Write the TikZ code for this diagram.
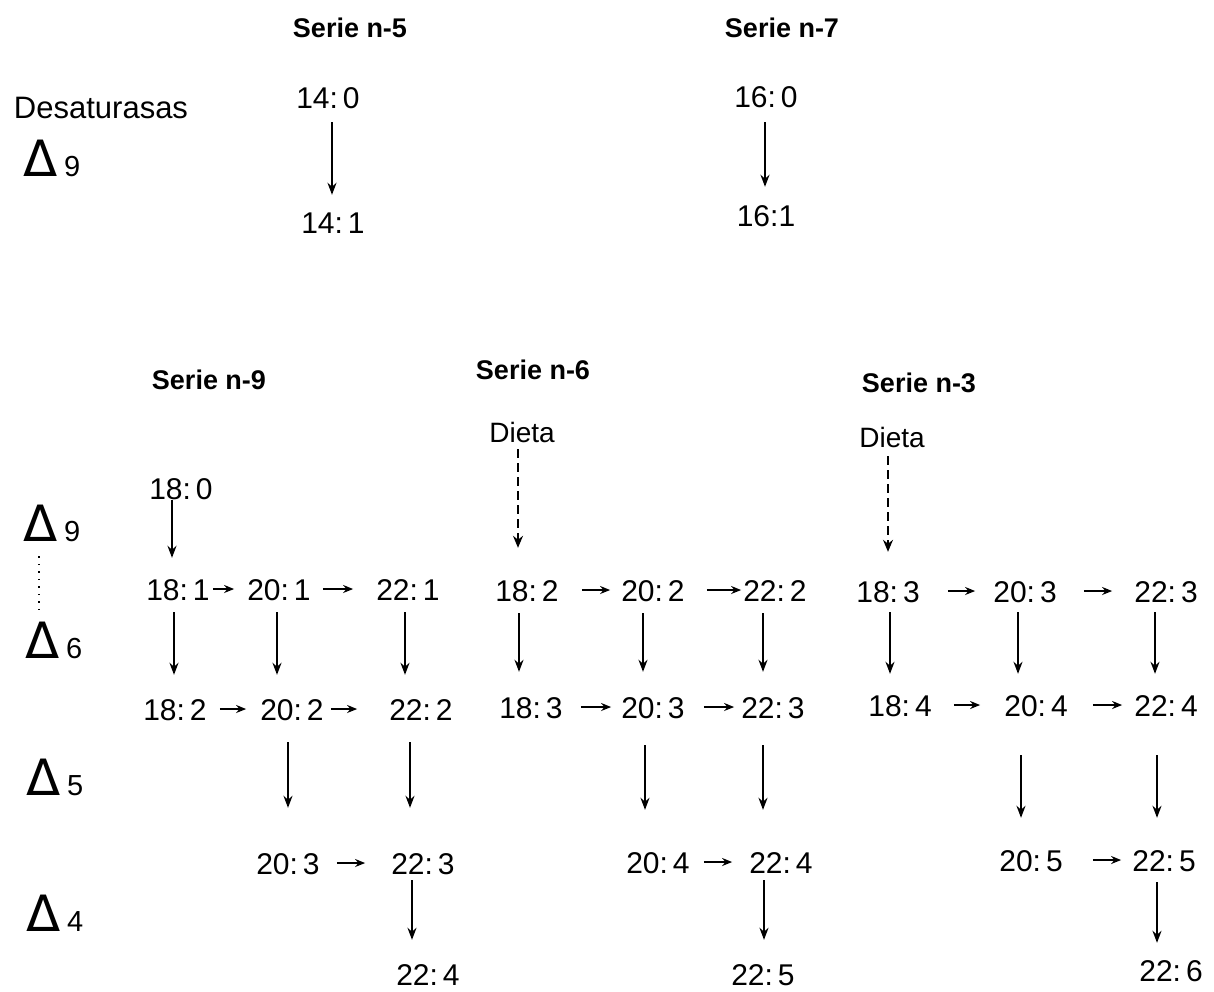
\documentclass[tikz,border=0pt]{standalone}
\usepackage{fontspec}
\setmainfont{Liberation Sans}
\newfontfamily\djfont{DejaVu Sans}
\usetikzlibrary{arrows.meta}
\newcommand\vconn[5]{\draw[varr, shorten <=#4pt, shorten >=#5pt] ([xshift=#3pt]#1.south) -- ([xshift=#3pt]#1.south |- #2.north);}
\newcommand\hconn[4]{\draw[harr, shorten <=#3pt, shorten >=#4pt] (#1.east) -- (#1.east -| #2.west);}
\newcommand\dsym[1]{{\djfont\fontsize{50}{52}\selectfont Δ}\hspace{6pt}{\fontsize{29}{34}\selectfont #1}}
\newcommand\nm[2]{#1:\hspace{5pt}#2}
\tikzset{
  num/.style={inner sep=0pt, text height=22pt, text depth=0pt, font=\fontsize{30}{34}\selectfont},
  serie/.style={inner sep=0pt, text depth=0pt, font=\fontsize{27}{32}\selectfont\bfseries},
  lbl/.style={inner sep=0pt, text depth=0pt, font=\fontsize{28}{32}\selectfont},
  delta/.style={inner sep=0pt, text depth=0pt},
  varr/.style={line width=1.7pt, -{Stealth[length=12pt,width=9pt]}},
  harr/.style={line width=1.7pt, -{Stealth[length=10pt,width=8pt]}},
  dietarr/.style={line width=1.4pt, dash pattern=on 9pt off 5pt, -{Stealth[length=12pt,width=10pt]}},
}
\begin{document}
\begin{tikzpicture}[x=1pt,y=-1pt]
\useasboundingbox (0,0) rectangle (1214,991);
% top part
\node[serie] (s5) at (350,28) {Serie n-5};
\node[serie] (s7) at (782,28) {Serie n-7};
\node[lbl, font=\fontsize{31}{34}\selectfont] (des) at (101,108) {Desaturasas};
\node[delta] (d9a) at (52,158) {\dsym{9}};
\node[num] (a140) at (328,97) {\nm{14}{0}};
\node[num] (a141) at (333,222) {\nm{14}{1}};
\node[num] (a160) at (766,96) {\nm{16}{0}};
\node[num] (a161) at (766,215) {16:1};
\vconn{a140}{a141}{4}{14}{16}
\vconn{a160}{a161}{-1}{15}{17}
% lower labels
\node[serie] (s9) at (209,380) {Serie n-9};
\node[serie] (s6) at (533,370) {Serie n-6};
\node[serie] (s3) at (919,383) {Serie n-3};
\node[lbl] (diet6) at (522,432) {Dieta};
\node[lbl] (diet3) at (892,437) {Dieta};
\node[delta] (d9b) at (52,523) {\dsym{9}};
\node[delta] (d6) at (54,640) {\dsym{6}};
\node[delta] (d5) at (55,777) {\dsym{5}};
\node[delta] (d4) at (55,913) {\dsym{4}};
\draw[line width=1.5pt, dash pattern=on 1.5pt off 6pt, shorten <=15pt, shorten >=6pt]
  ([xshift=-13pt]d9b.south) -- ([xshift=-13pt]d9b.south |- d6.north);
% series n-9
\node[num] (p180) at (181,488) {\nm{18}{0}};
\node[num] (p181) at (178,589) {\nm{18}{1}};
\node[num] (p201) at (279,589) {\nm{20}{1}};
\node[num] (p221) at (408,589) {\nm{22}{1}};
\node[num] (p182) at (175,709) {\nm{18}{2}};
\node[num] (p202) at (292,709) {\nm{20}{2}};
\node[num] (p222) at (421,709) {\nm{22}{2}};
\node[num] (p203) at (288,863) {\nm{20}{3}};
\node[num] (p223) at (423,863) {\nm{22}{3}};
\node[num] (p224) at (428,974) {\nm{22}{4}};
\vconn{p180}{p181}{-9}{1}{20}
\vconn{p181}{p182}{-4}{12}{23}
\vconn{p201}{p202}{-2}{12}{23}
\vconn{p221}{p222}{-3}{12}{23}
\vconn{p202}{p203}{-4}{22}{44}
\vconn{p222}{p223}{-11}{22}{44}
\vconn{p223}{p224}{-11}{6}{23}
\hconn{p181}{p201}{3}{13}
\hconn{p201}{p221}{12}{23}
\hconn{p182}{p202}{13}{14}
\hconn{p202}{p222}{7}{32}
\hconn{p203}{p223}{17}{26}
% series n-6
\node[num] (q182) at (527,590) {\nm{18}{2}};
\node[num] (q202) at (653,590) {\nm{20}{2}};
\node[num] (q222) at (775,590) {\nm{22}{2}};
\node[num] (q183) at (531,707) {\nm{18}{3}};
\node[num] (q203) at (653,707) {\nm{20}{3}};
\node[num] (q223) at (773,707) {\nm{22}{3}};
\node[num] (q204) at (658,862) {\nm{20}{4}};
\node[num] (q224) at (781,862) {\nm{22}{4}};
\node[num] (q225) at (763,974) {\nm{22}{5}};
\draw[dietarr, shorten <=7pt, shorten >=31pt] ([xshift=-4pt]diet6.south) -- ([xshift=-4pt]diet6.south |- q182.north);
\vconn{q182}{q183}{-8}{12}{24}
\vconn{q202}{q203}{-10}{12}{24}
\vconn{q222}{q223}{-12}{12}{24}
\vconn{q203}{q204}{-8}{27}{41}
\vconn{q223}{q224}{-10}{27}{41}
\vconn{q224}{q225}{-17}{7}{23}
\hconn{q182}{q202}{23}{11}
\hconn{q202}{q222}{22}{2}
\hconn{q183}{q203}{18}{10}
\hconn{q203}{q223}{19}{7}
\hconn{q204}{q224}{14}{17}
% series n-3
\node[num] (r183) at (888,591) {\nm{18}{3}};
\node[num] (r203) at (1025,591) {\nm{20}{3}};
\node[num] (r223) at (1166,591) {\nm{22}{3}};
\node[num] (r184) at (900,705) {\nm{18}{4}};
\node[num] (r204) at (1036,705) {\nm{20}{4}};
\node[num] (r224) at (1166,705) {\nm{22}{4}};
\node[num] (r205) at (1031,860) {\nm{20}{5}};
\node[num] (r225) at (1164,860) {\nm{22}{5}};
\node[num] (r226) at (1171,970) {\nm{22}{6}};
\draw[dietarr, shorten <=9pt, shorten >=28pt] ([xshift=-4pt]diet3.south) -- ([xshift=-4pt]diet3.south |- r183.north);
\vconn{r183}{r184}{2}{10}{20}
\vconn{r203}{r204}{-7}{10}{20}
\vconn{r223}{r224}{-11}{10}{20}
\vconn{r204}{r205}{-15}{39}{31}
\vconn{r224}{r225}{-9}{39}{31}
\vconn{r225}{r226}{-7}{11}{16}
\hconn{r183}{r203}{28}{18}
\hconn{r203}{r223}{27}{22}
\hconn{r184}{r204}{22}{24}
\hconn{r204}{r224}{25}{12}
\hconn{r205}{r225}{30}{11}
\end{tikzpicture}
\end{document}
